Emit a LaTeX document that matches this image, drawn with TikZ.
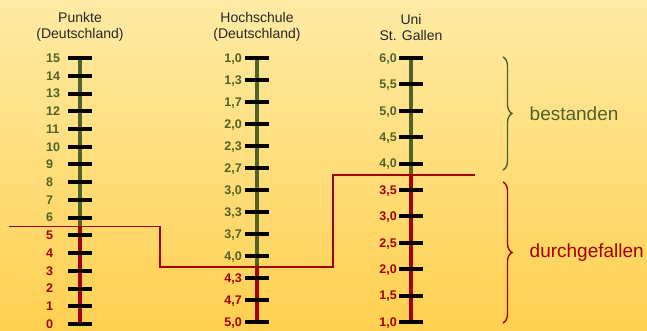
\documentclass[tikz,border=0pt]{standalone}
\usepackage{fontspec}
\setmainfont{Liberation Sans}
\usetikzlibrary{decorations.pathreplacing}
\definecolor{passgreen}{RGB}{79,98,40}
\definecolor{failred}{RGB}{165,0,0}
\definecolor{bgtop}{RGB}{255,235,165}
\definecolor{bgbottom}{RGB}{255,208,80}

\begin{document}
\begin{tikzpicture}
[x=1pt, y=-1pt,
 every node/.style={inner sep=0pt},
 title/.style={align=center, font=\fontsize{14}{16}\selectfont, text=black!85},
 num/.style={font=\bfseries\fontsize{12.5}{14}\selectfont, text depth=0pt},
 tick/.style={line width=4pt},
 bar/.style={line width=4pt},
 limit/.style={failred, line width=1.6pt},
 curly/.style={line width=1.4pt, decorate, decoration={brace, amplitude=9pt}},
 verdict/.style={font=\fontsize{19}{22}\selectfont}]

% background
\shade[top color=bgtop, bottom color=bgbottom] (0,0) rectangle (647,331);
\useasboundingbox (0,0) rectangle (647,331);

% column heads
\node[title] (head1) at (80,27) {Punkte\\(Deutschland)};
\node[title] (head2) at (257,27) {Hochschule\\(Deutschland)};
\node[title] (head3) at (411,27) {Uni\\St. Gallen};

% pass mark line
\coordinate (cut-a) at (9,226.5);
\coordinate (cut-b) at (160,226.5);
\coordinate (cut-c) at (160,267);
\coordinate (cut-d) at (333,267);
\coordinate (cut-e) at (333,175.3);
\coordinate (cut-f) at (475,175.3);

% axes
\coordinate (p-top) at (80,58);
\coordinate (p-cut) at (80,226.5);
\coordinate (p-bot) at (80,324);
\coordinate (h-top) at (257,58);
\coordinate (h-cut) at (257,267);
\coordinate (h-bot) at (257,324);
\coordinate (u-top) at (411,58);
\coordinate (u-cut) at (411,175.3);
\coordinate (u-bot) at (411,324);

\foreach \ax in {p,h,u} {
	\draw[bar,passgreen] (\ax-top) -- (\ax-cut);
	\draw[bar,failred] (\ax-cut) -- (\ax-bot);
}

% Punkte
\foreach \v in {0,...,15}
	\coordinate (p\v) at (80,{324-17.73*\v});
\foreach \v in {0,...,15}
	\draw[tick] ([xshift=-12pt]p\v) -- ([xshift=12pt]p\v);
\foreach \v in {6,...,15}
	\node[num,text=passgreen,anchor=west] (pl\v) at ([xshift=-34pt]p\v) {\v};
\foreach \v in {0,...,5}
	\node[num,text=failred,anchor=west] (pl\v) at ([xshift=-34pt]p\v) {\v};

% Hochschule
\foreach \i in {0,...,12}
	\coordinate (h\i) at (257,{57.7+22.03*\i});
\foreach \i in {0,...,12}
	\draw[tick] ([xshift=-12pt]h\i) -- ([xshift=12pt]h\i);
\foreach \i/\lab in {0/{1,0},1/{1,3},2/{1,7},3/{2,0},4/{2,3},5/{2,7},6/{3,0},7/{3,3},8/{3,7},9/{4,0}}
	\node[num,text=passgreen,anchor=east] (hl\i) at ([xshift=-15pt]h\i) {\lab};
\foreach \i/\lab in {10/{4,3},11/{4,7},12/{5,0}}
	\node[num,text=failred,anchor=east] (hl\i) at ([xshift=-15pt]h\i) {\lab};

% Uni St. Gallen
\foreach \i in {0,...,10}
	\coordinate (u\i) at (411,{58+26.4*\i});
\foreach \i in {0,...,10}
	\draw[tick] ([xshift=-12pt]u\i) -- ([xshift=12pt]u\i);
\foreach \i/\lab in {0/{6,0},1/{5,5},2/{5,0},3/{4,5},4/{4,0}}
	\node[num,text=passgreen,anchor=east] (ul\i) at ([xshift=-14pt]u\i) {\lab};
\foreach \i/\lab in {5/{3,5},6/{3,0},7/{2,5},8/{2,0},9/{1,5},10/{1,0}}
	\node[num,text=failred,anchor=east] (ul\i) at ([xshift=-14pt]u\i) {\lab};

\draw[limit] (cut-a) -- (cut-b) -- (cut-c) -- (cut-d) -- (cut-e) -- (cut-f);

% braces
\coordinate (gb-top) at (503,57);
\coordinate (gb-bot) at (503,170);
\coordinate (rb-top) at (503,182);
\coordinate (rb-bot) at (503,323);

\draw[curly,passgreen] (gb-top) -- (gb-bot)
	node[verdict,text=passgreen,midway,anchor=west,xshift=26pt] (pass) {bestanden};
\draw[curly,failred] (rb-top) -- (rb-bot)
	node[verdict,text=failred,midway,anchor=west,xshift=26pt] (fail) {durchgefallen};

\end{tikzpicture}
\end{document}
